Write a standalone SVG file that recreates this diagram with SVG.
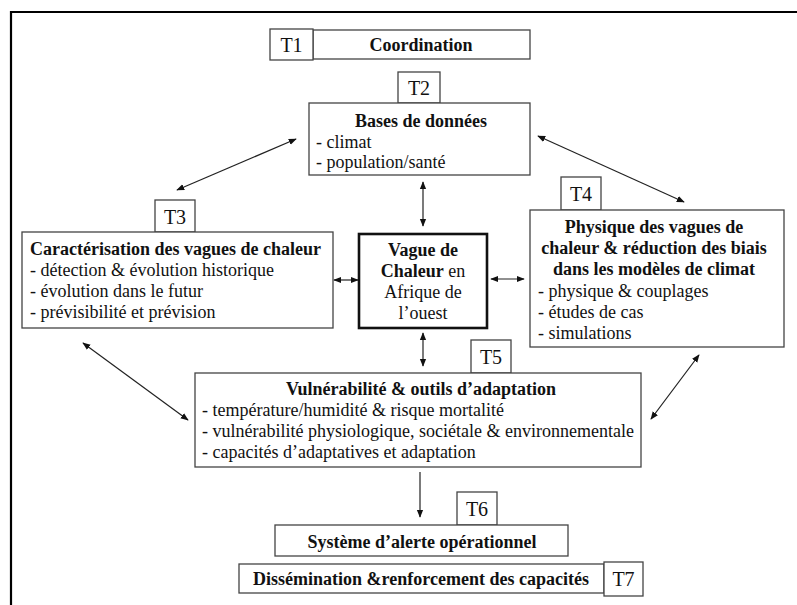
<svg xmlns="http://www.w3.org/2000/svg" width="797" height="605" viewBox="0 0 797 605" font-family="'Liberation Serif', 'Times New Roman', serif">
<style>
.box{fill:#fff;stroke:#444;stroke-width:1.3}
.thick{fill:#fff;stroke:#111;stroke-width:2.6}
text{font-family:'Liberation Serif','Times New Roman',serif;font-size:18px;fill:#111}
.b{font-weight:bold}
.c{text-anchor:middle}
.t{font-size:20px}
.con{stroke:#222;stroke-width:1.2;fill:none;marker-start:url(#ah);marker-end:url(#ah)}
.one{stroke:#222;stroke-width:1.2;fill:none;marker-end:url(#ah)}
</style>
<defs>
<marker id="ah" viewBox="0 0 10 10" refX="9" refY="5" markerWidth="8" markerHeight="8" markerUnits="userSpaceOnUse" orient="auto-start-reverse">
<path d="M0,1 L10,5 L0,9 Z" fill="#111"/>
</marker>
</defs>
<rect width="797" height="605" fill="#fff"/>
<path d="M11,605 L11,12 L797,12" fill="none" stroke="#000" stroke-width="2.2"/>

<g id="coordination">
<rect class="box" x="313" y="30" width="217" height="29"/>
<rect class="box" x="270" y="29" width="43" height="31"/>
<text class="t" x="291.5" y="52" text-anchor="middle">T1</text>
<text class="b c" x="421" y="51">Coordination</text>
</g>

<g id="bases">
<rect class="box" x="398" y="72" width="42" height="31"/>
<text class="t" x="419" y="95" text-anchor="middle">T2</text>
<rect class="box" x="309" y="103" width="221" height="72"/>
<text class="b c" x="421" y="127">Bases de données</text>
<text x="316" y="148">- climat</text>
<text x="316" y="168">- population/santé</text>
</g>

<g id="caracterisation">
<rect class="box" x="155" y="200" width="40" height="32"/>
<text class="t" x="175" y="224" text-anchor="middle">T3</text>
<rect class="box" x="22" y="232" width="311" height="96"/>
<text class="b" x="30" y="255">Caractérisation des vagues de chaleur</text>
<text x="30" y="276">- détection &amp; évolution historique</text>
<text x="30" y="297">- évolution dans le futur</text>
<text x="30" y="318">- prévisibilité et prévision</text>
</g>

<g id="vague">
<rect class="thick" x="359" y="234" width="128" height="94"/>
<text class="c" x="423" y="256"><tspan class="b">Vague de</tspan></text>
<text class="c" x="423" y="277"><tspan class="b">Chaleur</tspan> en</text>
<text class="c" x="423" y="298">Afrique de</text>
<text class="c" x="423" y="319">l’ouest</text>
</g>

<g id="physique">
<rect class="box" x="561" y="177" width="40" height="33"/>
<text class="t" x="581" y="201" text-anchor="middle">T4</text>
<rect class="box" x="530" y="210" width="254" height="137"/>
<text class="b c" x="654" y="233">Physique des vagues de</text>
<text class="b c" x="654" y="254">chaleur &amp; réduction des biais</text>
<text class="b c" x="654" y="275">dans les modèles de climat</text>
<text x="538" y="297">- physique &amp; couplages</text>
<text x="538" y="318">- études de cas</text>
<text x="538" y="339">- simulations</text>
</g>

<g id="vulnerabilite">
<rect class="box" x="471" y="340" width="40" height="33"/>
<text class="t" x="491" y="364" text-anchor="middle">T5</text>
<rect class="box" x="195" y="373" width="446" height="94"/>
<text class="b c" x="421" y="395">Vulnérabilité &amp; outils d’adaptation</text>
<text x="202" y="416">- température/humidité &amp; risque mortalité</text>
<text x="202" y="437">- vulnérabilité physiologique, sociétale &amp; environnementale</text>
<text x="202" y="458">- capacités d’adaptatives et adaptation</text>
</g>

<g id="systeme">
<rect class="box" x="457" y="492" width="40" height="33"/>
<text class="t" x="477" y="516" text-anchor="middle">T6</text>
<rect class="box" x="275" y="525" width="293" height="31"/>
<text class="b c" x="422" y="548">Système d’alerte opérationnel</text>
</g>

<g id="dissemination">
<rect class="box" x="239" y="564" width="365" height="29"/>
<rect class="box" x="604" y="562" width="39" height="34"/>
<text class="t" x="623.5" y="586" text-anchor="middle">T7</text>
<text class="b c" x="421" y="585">Dissémination &amp;renforcement des capacités</text>
</g>

<g id="connectors">
<line class="con" x1="296" y1="139" x2="177" y2="190"/>
<line class="con" x1="538" y1="136" x2="684" y2="202"/>
<line class="con" x1="423" y1="182" x2="423" y2="226"/>
<line class="con" x1="334" y1="280" x2="358" y2="280"/>
<line class="con" x1="491" y1="279" x2="524" y2="279"/>
<line class="con" x1="423" y1="333" x2="423" y2="366"/>
<line class="con" x1="83" y1="343" x2="188" y2="420"/>
<line class="con" x1="699" y1="355" x2="651" y2="419"/>
<line class="one" x1="420" y1="472" x2="420" y2="517"/>
</g>
</svg>
